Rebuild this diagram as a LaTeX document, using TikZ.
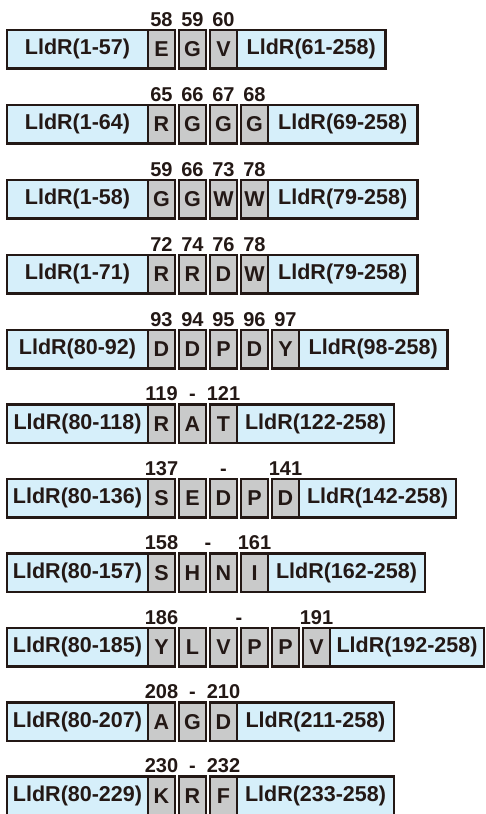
\documentclass[tikz,border=0pt]{standalone}
\usepackage{fontspec}
\setmainfont{Liberation Sans}
\usetikzlibrary{calc}
\definecolor{dk}{RGB}{35,24,21}
\definecolor{lblue}{RGB}{214,239,250}
\definecolor{lgray}{RGB}{201,202,202}
\tikzset{
  box/.style={draw=dk, line width=2.2pt, inner sep=0pt, outer sep=0pt, anchor=north west,
    minimum height=38.5pt, text=dk, font=\bfseries\fontsize{21.5}{21.5}\selectfont},
  seg/.style={box, fill=lblue},
  res/.style={box, fill=lgray, minimum width=27pt},
  num/.style={anchor=base, yshift=3.6pt, inner sep=0pt, text=dk, font=\bfseries\fontsize{20}{20}\selectfont}
}
\newcommand\mkrow[6]{% id, y, left, residues, right, right width
  \node[seg, minimum width=141pt] (r#1L) at (7,#2) {#3};
  \foreach \r [count=\i] in {#4} {
    \node[res] (r#1g\i) at ({148+31*(\i-1)},#2) {\r};
    \xdef\ngr{\i}
  }
  \node[seg, minimum width=#6pt] (r#1R) at (r#1g\ngr.north east) {#5};
}
\begin{document}
\begin{tikzpicture}[x=1pt,y=-1pt]
\useasboundingbox (0,0) rectangle (486,814);
\mkrow{1}{30}{LldR(1-57)}{E,G,V}{LldR(61-258)}{148.5}
\mkrow{2}{105}{LldR(1-64)}{R,G,G,G}{LldR(69-258)}{149.5}
\mkrow{3}{180}{LldR(1-58)}{G,G,W,W}{LldR(79-258)}{149.5}
\mkrow{4}{255}{LldR(1-71)}{R,R,D,W}{LldR(79-258)}{149.5}
\mkrow{5}{330}{LldR(80-92)}{D,D,P,D,Y}{LldR(98-258)}{148.5}
\mkrow{6}{404.5}{LldR(80-118)}{R,A,T}{LldR(122-258)}{157}
\mkrow{7}{479}{LldR(80-136)}{S,E,D,P,D}{LldR(142-258)}{157}
\mkrow{8}{553.5}{LldR(80-157)}{S,H,N,I}{LldR(162-258)}{157}
\mkrow{9}{628}{LldR(80-185)}{Y,L,V,P,P,V}{LldR(192-258)}{154}
\mkrow{10}{702.5}{LldR(80-207)}{A,G,D}{LldR(211-258)}{157}
\mkrow{11}{776.5}{LldR(80-229)}{K,R,F}{LldR(233-258)}{157}
% residue numbers
\foreach \n [count=\i] in {58,59,60} \node[num] (r1n\i) at (r1g\i.north) {\n};
\foreach \n [count=\i] in {65,66,67,68} \node[num] (r2n\i) at (r2g\i.north) {\n};
\foreach \n [count=\i] in {59,66,73,78} \node[num] (r3n\i) at (r3g\i.north) {\n};
\foreach \n [count=\i] in {72,74,76,78} \node[num] (r4n\i) at (r4g\i.north) {\n};
\foreach \n [count=\i] in {93,94,95,96,97} \node[num] (r5n\i) at (r5g\i.north) {\n};
\node[num] (r6a) at (r6g1.north) {119};
\node[num] (r6b) at (r6g2.north) {-};
\node[num] (r6c) at (r6g3.north) {121};
\node[num] (r7a) at (r7g1.north) {137};
\node[num] (r7b) at (r7g3.north) {-};
\node[num] (r7c) at (r7g5.north) {141};
\node[num] (r8a) at (r8g1.north) {158};
\node[num] (r8b) at ($(r8g2.north)!0.5!(r8g3.north)$) {-};
\node[num] (r8c) at (r8g4.north) {161};
\node[num] (r9a) at (r9g1.north) {186};
\node[num] (r9b) at ($(r9g3.north)!0.5!(r9g4.north)$) {-};
\node[num] (r9c) at (r9g6.north) {191};
\node[num] (r10a) at (r10g1.north) {208};
\node[num] (r10b) at (r10g2.north) {-};
\node[num] (r10c) at (r10g3.north) {210};
\node[num] (r11a) at (r11g1.north) {230};
\node[num] (r11b) at (r11g2.north) {-};
\node[num] (r11c) at (r11g3.north) {232};
\end{tikzpicture}
\end{document}
